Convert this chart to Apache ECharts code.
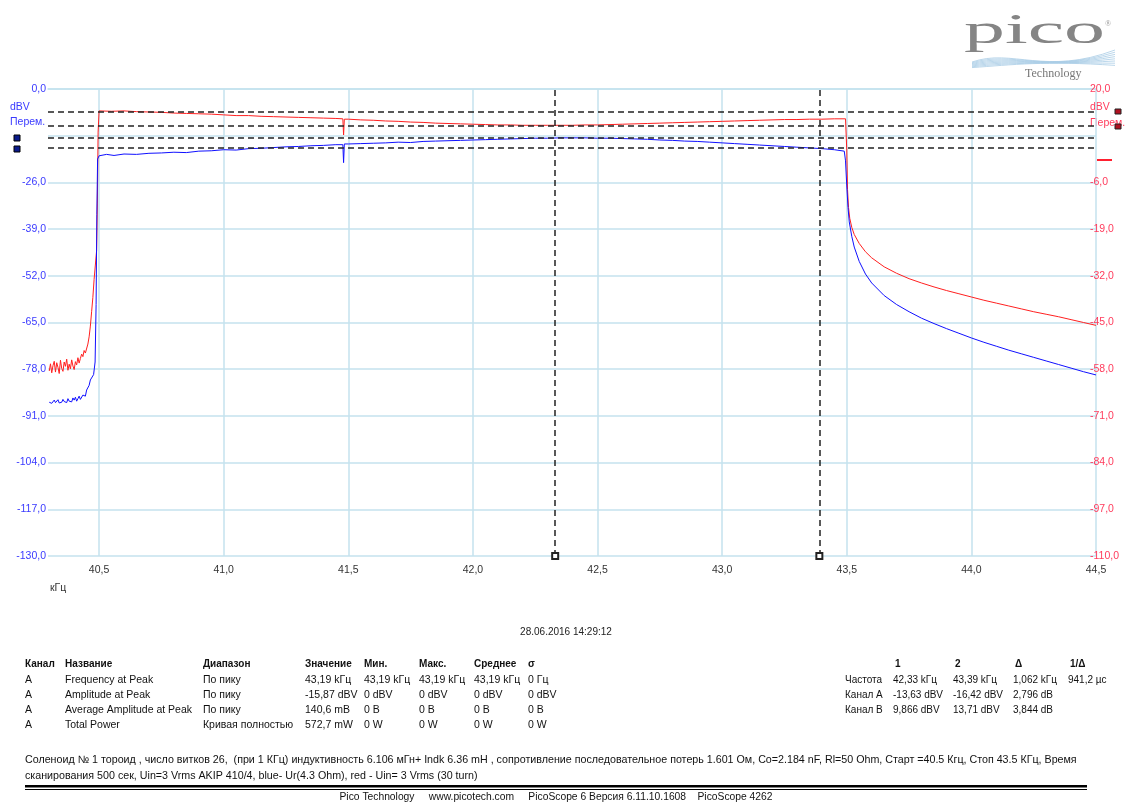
<!DOCTYPE html>
<html><head><meta charset="utf-8">
<script src="https://cdn.jsdelivr.net/npm/echarts@6/dist/echarts.min.js"></script>
<style>html,body{margin:0;padding:0;background:#fff}#c{width:1126px;height:803px}</style>
</head><body><div id="c"></div>
<script>
// ---- Data ----
var xTicks = [40.5, 41.0, 41.5, 42.0, 42.5, 43.0, 43.5, 44.0, 44.5];
var leftTicks = [0, -26, -39, -52, -65, -78, -91, -104, -117, -130];
var rightTicks = [20, -6, -19, -32, -45, -58, -71, -84, -97, -110];

// Channel A (blue), dBV, left axis
var blueFreq = [40.300,40.305,40.310,40.315,40.320,40.325,40.330,40.335,40.340,40.345,40.350,40.355,40.360,40.365,40.370,40.375,40.380,40.385,40.390,40.395,40.400,40.405,40.410,40.415,40.420,40.425,40.430,40.435,40.440,
 40.445,40.450,40.455,40.460,40.465,40.470,40.478,40.484,40.488,40.491,40.494,
 40.50,40.53,40.56,40.60,40.65,40.70,40.75,40.80,40.85,40.90,40.95,41.00,41.05,41.10,41.15,41.20,41.25,41.30,41.35,41.40,41.45,41.478,41.481,41.484,41.50,41.55,41.60,41.65,41.70,41.75,41.80,41.85,41.90,41.95,42.00,42.05,42.10,42.15,42.20,42.25,42.30,42.35,42.40,42.45,42.50,42.55,42.60,42.65,42.70,42.75,42.80,42.85,42.90,42.95,43.00,43.05,43.10,43.15,43.20,43.25,43.30,43.35,43.40,43.45,43.49,
 43.495,43.50,43.505,43.51,43.52,43.53,43.55,43.575,43.60,43.65,43.70,43.75,43.80,43.85,43.90,43.95,44.00,44.05,44.10,44.15,44.20,44.25,44.30,44.35,44.40,44.45,44.50];
var blueDbv = [-87.2,-86.8,-87.5,-87.0,-86.6,-87.3,-87.1,-86.5,-87.4,-86.9,-87.2,-86.4,-87.0,-86.7,-87.3,-86.2,-86.9,-86.5,-87.1,-86.0,-86.6,-85.8,-86.9,-86.2,-85.5,-86.4,-85.9,-85.2,-84.8,
 -85.5,-83.8,-84.2,-82.5,-81.0,-81.5,-79.5,-76.0,-60.0,-35.0,-19.5,
 -18.6,-18.2,-18.5,-18.1,-18.2,-17.9,-17.8,-17.6,-17.7,-17.3,-17.2,-16.9,-17.0,-16.6,-16.5,-16.3,-16.1,-16.0,-15.8,-15.7,-15.5,-15.5,-20.5,-15.3,-15.3,-15.2,-15.1,-15.0,-14.8,-14.9,-14.6,-14.5,-14.4,-14.3,-14.2,-14.1,-14.0,-13.9,-13.8,-13.7,-13.7,-13.6,-13.6,-13.6,-13.7,-13.7,-13.8,-13.9,-14.0,-14.2,-14.3,-14.5,-14.6,-14.8,-15.0,-15.2,-15.4,-15.6,-15.8,-16.0,-16.2,-16.4,-16.6,-16.9,-17.3,
 -20.0,-27.0,-33.0,-37.0,-41.0,-44.0,-48.0,-51.5,-54.0,-57.5,-60.0,-62.0,-63.8,-65.3,-66.7,-68.0,-69.3,-70.5,-71.6,-72.7,-73.7,-74.7,-75.7,-76.7,-77.7,-78.7,-79.6];

// Channel B (red), dBV, right axis
var redFreq = [40.300,40.305,40.310,40.315,40.320,40.325,40.330,40.335,40.340,40.345,40.350,40.355,40.360,40.365,40.370,40.375,40.380,40.385,40.390,40.395,40.400,40.405,40.410,40.415,40.420,40.425,40.430,40.435,40.440,40.445,
 40.450,40.455,40.460,40.465,40.470,40.475,40.480,40.485,40.490,40.493,40.496,
 40.50,40.55,40.60,40.65,40.70,40.75,40.80,40.85,40.90,40.95,41.00,41.05,41.10,41.15,41.20,41.25,41.30,41.35,41.40,41.45,41.478,41.481,41.484,41.50,41.55,41.60,41.65,41.70,41.75,41.80,41.85,41.90,41.95,42.00,42.05,42.10,42.15,42.20,42.25,42.30,42.35,42.40,42.45,42.50,42.55,42.60,42.65,42.70,42.75,42.80,42.85,42.90,42.95,43.00,43.05,43.10,43.15,43.20,43.25,43.30,43.35,43.40,43.45,43.495,
 43.50,43.503,43.507,43.512,43.52,43.53,43.55,43.575,43.60,43.65,43.70,43.75,43.80,43.85,43.90,43.95,44.00,44.05,44.10,44.15,44.20,44.25,44.30,44.35,44.40,44.45,44.50];
var redDbv = [-58.5,-56.5,-59.0,-57.0,-55.8,-58.8,-56.2,-57.5,-59.2,-55.5,-57.8,-58.6,-56.0,-57.2,-55.2,-58.3,-56.6,-57.9,-55.4,-57.1,-58.1,-55.9,-56.8,-54.8,-56.3,-55.0,-53.8,-54.5,-52.8,-53.5,
 -54.0,-51.0,-49.0,-46.0,-42.0,-38.0,-33.0,-29.0,-25.0,-12.0,8.0,
 13.9,13.8,13.9,13.7,13.6,13.5,13.3,13.2,13.1,13.0,12.8,12.6,12.6,12.4,12.3,12.2,12.1,12.0,11.9,11.8,11.7,7.2,11.6,11.6,11.4,11.3,11.1,11.0,10.8,10.7,10.5,10.4,10.3,10.2,10.1,10.0,10.0,9.9,9.9,9.9,9.9,9.9,10.0,10.0,10.1,10.2,10.3,10.4,10.5,10.6,10.7,10.8,10.9,11.0,11.1,11.2,11.3,11.4,11.5,11.5,11.6,11.6,11.7,11.7,
 3.0,-8.0,-13.0,-16.0,-18.5,-20.5,-23.0,-25.3,-27.0,-29.5,-31.3,-32.8,-34.0,-35.1,-36.1,-37.0,-37.9,-38.8,-39.6,-40.4,-41.2,-42.0,-42.7,-43.4,-44.2,-45.0,-45.8];

// Cursors
var cursorFreq = [42.33, 43.39];
var cursorA = [-13.63, -16.42];
var cursorB = [9.866, 13.71];

// Measurement table
var measHeader = ['Канал','Название','Диапазон','Значение','Мин.','Макс.','Среднее','σ'];
var measRows = [
 ['A','Frequency at Peak','По пику','43,19 kГц','43,19 kГц','43,19 kГц','43,19 kГц','0 Гц'],
 ['A','Amplitude at Peak','По пику','-15,87 dBV','0 dBV','0 dBV','0 dBV','0 dBV'],
 ['A','Average Amplitude at Peak','По пику','140,6 mВ','0 В','0 В','0 В','0 В'],
 ['A','Total Power','Кривая полностью','572,7 mW','0 W','0 W','0 W','0 W']];
var cursHeader = ['1','2','Δ','1/Δ'];
var cursRows = [
 ['Частота','42,33 kГц','43,39 kГц','1,062 kГц','941,2 µс'],
 ['Канал A','-13,63 dBV','-16,42 dBV','2,796 dB',''],
 ['Канал B','9,866 dBV','13,71 dBV','3,844 dB','']];
var noteLines = ['Соленоид № 1 тороид , число витков 26,  (при 1 КГц) индуктивность 6.106 мГн+ Indk 6.36 mH , сопротивление последовательное потерь 1.601 Ом, Co=2.184 nF, Rl=50 Ohm, Старт =40.5 Кгц, Стоп 43.5 КГц, Время',
 'сканирования 500 сек, Uin=3 Vrms AKIP 410/4, blue- Ur(4.3 Ohm), red - Uin= 3 Vrms (30 turn)'];
var footer = 'Pico Technology     www.picotech.com     PicoScope 6 Версия 6.11.10.1608    PicoScope 4262';
var timestamp = '28.06.2016 14:29:12';

// ---- Build ----
function zip(a,b){var r=[];for(var i=0;i<a.length;i++)r.push([a[i],b[i]]);return r;}
function fmt(v){return v.toFixed(1).replace('.',',');}
var FONT = 'Liberation Sans';
var gridCol = '#c4e2ee';
var dashStyle = {color:'#222', width:1.5, type:[6,4]};

var graphics = [];
function txt(x,y,s,opt){opt=opt||{};graphics.push({type:'text',x:x,y:y,silent:true,style:{text:s,fill:opt.fill||'#111',font:(opt.bold?'bold ':'')+(opt.size||10.5)+'px "'+FONT+'"',textAlign:opt.align||'left',textVerticalAlign:'middle'}});}

txt(10,107,'dBV',{fill:'#3a3aff',size:10.5});
txt(10,122,'Перем.',{fill:'#3a3aff',size:10.5});
txt(1090,107,'dBV',{fill:'#ff3b5c',size:10.5});
txt(1090,123,'Перем.',{fill:'#ff3b5c',size:10.5});
graphics.push({type:'rect',shape:{x:14,y:135,width:6,height:6},style:{fill:'#0a1a8a',stroke:'#000',lineWidth:1}});
graphics.push({type:'rect',shape:{x:14,y:146,width:6,height:6},style:{fill:'#0a1a8a',stroke:'#000',lineWidth:1}});
graphics.push({type:'rect',shape:{x:1115,y:109,width:6,height:5},style:{fill:'#b01020',stroke:'#222',lineWidth:1}});
graphics.push({type:'rect',shape:{x:1115,y:124,width:6,height:5},style:{fill:'#b01020',stroke:'#222',lineWidth:1}});
graphics.push({type:'rect',shape:{x:1097,y:159,width:15,height:2},style:{fill:'#ff2030'}});
txt(50,588,'кГц',{fill:'#333',size:10.5});
txt(566,632,timestamp,{fill:'#222',size:10,align:'center'});

var mx=[25,65,203,305,364,419,474,528];
measHeader.forEach(function(h,i){txt(mx[i],664,h,{bold:true,size:10});});
measRows.forEach(function(r,j){r.forEach(function(c,i){txt(mx[i],680+15*j,c);});});
var cx=[845,893,953,1013,1068];
cursHeader.forEach(function(h,i){txt(cx[i+1]+2,664,h,{bold:true,size:10});});
cursRows.forEach(function(r,j){r.forEach(function(c,i){txt(cx[i],680+15*j,c,{size:10});});});
txt(25,760,noteLines[0],{size:10.7});
txt(25,776,noteLines[1],{size:10.7});
graphics.push({type:'rect',shape:{x:25,y:785,width:1062,height:2.5},style:{fill:'#000'}});
graphics.push({type:'rect',shape:{x:25,y:789,width:1062,height:1},style:{fill:'#000'}});
txt(556,797,footer,{size:10.3,align:'center'});

// logo
graphics.push({type:'text',x:964,y:11,scaleX:1.95,scaleY:1.0,style:{text:'pico',fill:'#858585',font:'42px "Liberation Serif"',textVerticalAlign:'top'}});
graphics.push({type:'text',x:1105,y:20,style:{text:'®',fill:'#999',font:'8px "Liberation Serif"'}});
graphics.push({type:'text',x:1025,y:74,style:{text:'Technology',fill:'#777',font:'12px "Liberation Serif"',textVerticalAlign:'middle'}});
for(var k=0;k<8;k++){
  graphics.push({type:'bezierCurve',shape:{x1:972,y1:62+k*0.8,cpx1:1012,cpy1:48+k*2.4,cpx2:1045,cpy2:76-k*2.2,x2:1115,y2:50+k*2.2},style:{stroke:'#a9cde6',lineWidth:0.8,fill:null}});
}

var chart = echarts.init(document.getElementById('c'),null,{renderer:'canvas'});
chart.setOption({
  animation:false,
  backgroundColor:'#fff',
  graphic:graphics,
  grid:{left:48,right:30,top:89,bottom:247,containLabel:false},
  xAxis:{type:'value',min:40.295,max:44.5,
    axisLine:{show:true,lineStyle:{color:gridCol,width:1.5}},
    axisTick:{show:false,customValues:xTicks},
    axisLabel:{customValues:xTicks,formatter:function(v){return fmt(v);},color:'#333',fontSize:10.5,fontFamily:FONT,margin:9},
    splitLine:{show:true,lineStyle:{color:gridCol,width:1.5}}},
  yAxis:[
    {type:'value',min:-130,max:0,interval:13,position:'left',
     axisLine:{show:false},axisTick:{show:false},
     axisLabel:{customValues:leftTicks,formatter:function(v){return fmt(v);},color:'#3a3aff',fontSize:10.5,fontFamily:FONT,margin:2},
     splitLine:{show:true,lineStyle:{color:gridCol,width:1.5}}},
    {type:'value',min:-110,max:20,position:'right',
     axisLine:{show:false},axisTick:{show:false},
     axisLabel:{customValues:rightTicks,formatter:function(v){return fmt(v);},color:'#ff3b5c',fontSize:10.5,fontFamily:FONT,margin:-6},
     splitLine:{show:false}}
  ],
  series:[
    {type:'line',name:'B',yAxisIndex:1,data:zip(redFreq,redDbv),showSymbol:false,lineStyle:{color:'#ff2020',width:1},itemStyle:{color:'#ff2020'},
     markLine:{silent:true,symbol:'none',label:{show:false},lineStyle:dashStyle,data:cursorB.map(function(v){return {yAxis:v};})}},
    {type:'line',name:'A',yAxisIndex:0,data:zip(blueFreq,blueDbv),showSymbol:false,lineStyle:{color:'#1010ff',width:1},itemStyle:{color:'#1010ff'},
     markLine:{silent:true,symbol:'none',label:{show:false},lineStyle:dashStyle,
       data:cursorA.map(function(v){return {yAxis:v};}).concat(cursorFreq.map(function(f){return [{coord:[f,-130],symbol:'emptyRect',symbolSize:6},{coord:[f,0],symbol:'none'}];}))}}
  ]
});
</script></body></html>
